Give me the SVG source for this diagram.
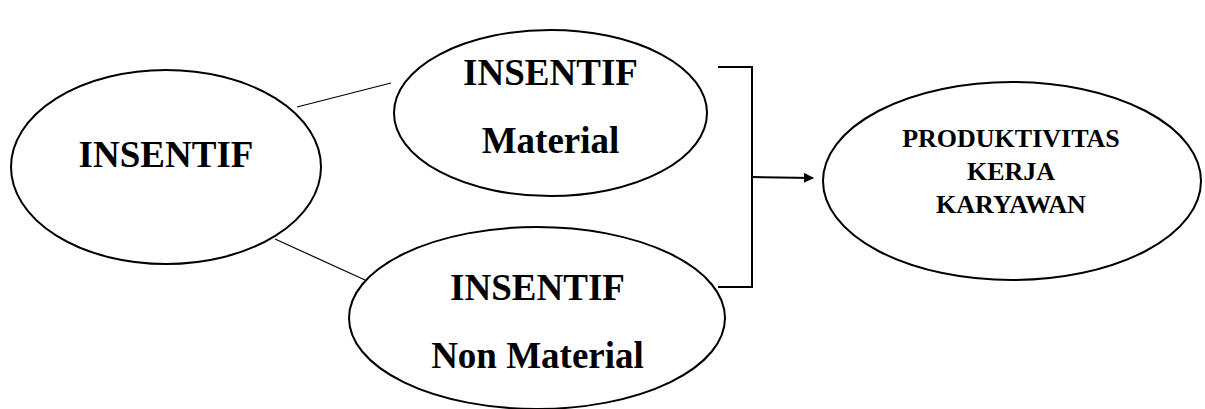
<svg xmlns="http://www.w3.org/2000/svg" width="1205" height="409" viewBox="0 0 1205 409">
<style>
.node ellipse{fill:#fff;stroke:#000;stroke-width:2}
.t{font-family:'Liberation Serif','DejaVu Serif',serif;font-weight:700;fill:#000;text-anchor:middle}
.big{font-size:37px}
.small{font-size:26px}
.conn line,.conn path{stroke:#000;fill:none}
</style>
<defs>
<marker id="arr" markerWidth="10" markerHeight="10" refX="9" refY="5" orient="auto" markerUnits="userSpaceOnUse">
<path d="M0,0 L10,5 L0,10 z" fill="#000"/>
</marker>
</defs>
<rect width="1205" height="409" fill="#fff"/>
<g class="conn">
<line x1="297" y1="107" x2="391" y2="83" stroke-width="1.2"/>
<line x1="275" y1="239" x2="365" y2="280" stroke-width="1.2"/>
<path d="M718,67 H752 V287 H718" stroke-width="2"/>
<line x1="752" y1="177" x2="813" y2="178" stroke-width="2" marker-end="url(#arr)"/>
</g>
<g id="insentif" class="node">
<ellipse cx="166" cy="167" rx="155" ry="97"/>
<text class="t big" x="166" y="167" font-family="Liberation Serif, serif">INSENTIF</text>
</g>
<g id="material" class="node">
<ellipse cx="550.5" cy="113" rx="156.5" ry="83"/>
<text class="t big" x="550.5" y="85">INSENTIF</text>
<text class="t big" x="550.5" y="153">Material</text>
</g>
<g id="nonmaterial" class="node">
<ellipse cx="537" cy="318" rx="188" ry="91"/>
<text class="t big" x="537.5" y="300">INSENTIF</text>
<text class="t big" x="537.5" y="368">Non Material</text>
</g>
<g id="produktivitas" class="node">
<ellipse cx="1012" cy="181" rx="189" ry="99"/>
<text class="t small" x="1011" y="147">PRODUKTIVITAS</text>
<text class="t small" x="1011" y="180">KERJA</text>
<text class="t small" x="1011" y="213">KARYAWAN</text>
</g>
</svg>
